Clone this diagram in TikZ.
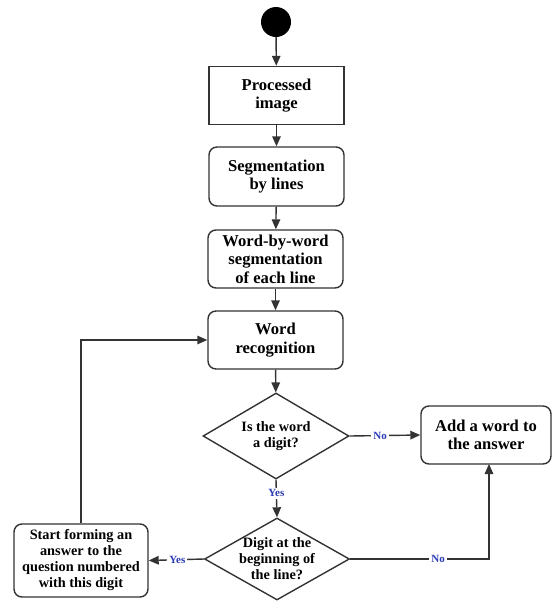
\documentclass[tikz,border=0pt]{standalone}
\usepackage{fontspec}
\setmainfont{Liberation Serif}
\usetikzlibrary{arrows.meta,shapes.geometric}
\definecolor{edge}{HTML}{333333}
\definecolor{lbl}{HTML}{2B3BB5}
\begin{document}
\begin{tikzpicture}[x=1pt,y=-1pt,
  big/.style={font=\bfseries\fontsize{16.6}{18.4}\selectfont},
  small/.style={font=\bfseries\fontsize{14.3}{16}\selectfont},
  stepbox/.style={draw=edge,line width=1.4pt,fill=white,align=center,
    minimum width=135pt,minimum height=58pt,inner sep=0pt,rounded corners=8pt},
  plainbox/.style={stepbox,rounded corners=0pt},
  decision/.style={draw=edge,line width=1.4pt,shape=diamond,inner sep=0pt,
    minimum width=146pt,minimum height=86pt},
  flow/.style={draw=edge,line width=1.4pt,-{Triangle[length=10pt,width=8.5pt]}},
  answer/.style={font=\bfseries\fontsize{11}{12}\selectfont,text=lbl,
    fill=white,inner sep=2pt}]
\useasboundingbox (0,0) rectangle (553,603);

% start marker
\node[circle,fill=black,minimum size=30pt,inner sep=0pt] (start) at (276,22) {};

% processing steps
\node[plainbox,big] (img) at (276.5,95.5) {Processed\\image};
\node[stepbox,big,minimum height=59pt] (seg) at (276.5,176.5) {Segmentation\\by lines};
\node[stepbox,big] (wbw) at (275.5,259) {Word-by-word\\segmentation\\of each line};
\node[stepbox,big] (rec) at (275.5,340) {Word\\recognition};

% decisions
\node[decision] (isdig) at (276,436) {};
\node[small,align=center] (isdigtxt) at (276,436) {Is the word\\a digit?};
\node[decision,minimum width=145pt,minimum height=82pt] (begin) at (277,559) {};
\node[small,align=center] (begintxt) at (277,559) {Digit at the\\beginning of\\the line?};

% outcomes
\node[stepbox,big,minimum width=130pt] (add) at (486,435) {Add a word to\\the answer};
\node[stepbox,small,minimum width=134pt,minimum height=73pt] (form) at (81,560.5)
  {Start forming an\\answer to the\\question numbered\\with this digit};

% connectors
\draw[flow] (start) -- (img);
\draw[flow] (img) -- (seg);
\draw[flow] (seg) -- (wbw);
\draw[flow] (wbw) -- (rec);
\draw[flow] (rec) -- (isdig);
\draw[flow] (isdig.east) -- node[answer,pos=0.43] {No} (add.west);
\draw[flow] (isdig.south) -- node[answer,pos=0.36] {Yes} (begin.north);
\draw[flow] (begin.west) -- node[answer,pos=0.48] {Yes} (form.east);
\coordinate (addin) at (489,464);
\draw[flow] (begin.east) -| node[answer,pos=0.317] {No} (addin);
\draw[flow] (form.north) |- (rec.west);
\end{tikzpicture}
\end{document}
